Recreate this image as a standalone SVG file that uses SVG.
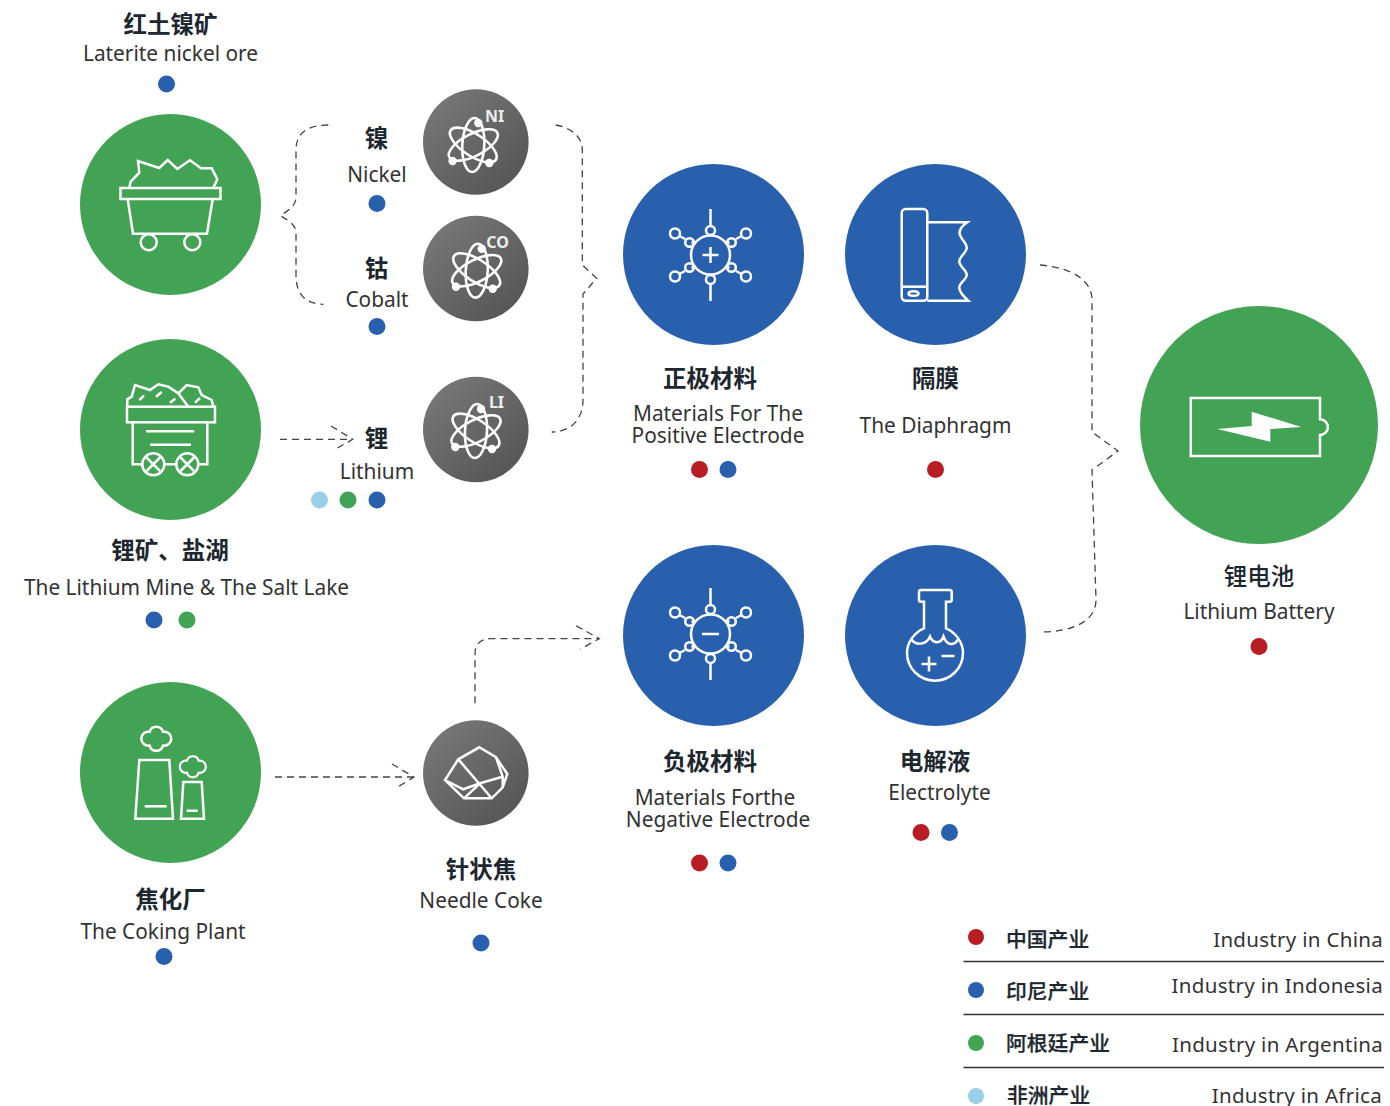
<svg xmlns="http://www.w3.org/2000/svg" xmlns:xlink="http://www.w3.org/1999/xlink" width="1390" height="1106" viewBox="0 0 1390 1106">
<style>
.g{fill:#42a354}.b{fill:#2860ae}.r{fill:#b81d24}.l{fill:#9acfea}
.i{fill:none;stroke:#fff;stroke-width:2.5;stroke-linejoin:miter}
.a{fill:none;stroke:#fff;stroke-width:2.6}
.c{fill:none;stroke:#444;stroke-width:1.3;stroke-dasharray:7 5}
.zh{font-family:"Noto Sans CJK SC",sans-serif;font-weight:700;font-size:23.5px;fill:#1d2730;text-anchor:middle}
.en{font-family:"Noto Sans","Liberation Sans",sans-serif;font-size:20.85px;fill:#333;text-anchor:middle}
.sym{font-family:"Noto Sans","Liberation Sans",sans-serif;font-weight:700;font-size:16px;fill:#eee;text-anchor:middle}
.lz{font-family:"Noto Sans CJK SC",sans-serif;font-weight:500;font-size:20.8px;fill:#1d2730;stroke:#1d2730;stroke-width:.25}
.le{font-family:"Noto Sans","Liberation Sans",sans-serif;font-size:20.5px;fill:#333;text-anchor:end;letter-spacing:.3px}
</style>
<defs>
<linearGradient id="gr" x1="0.15" y1="0.1" x2="0.85" y2="0.9"><stop offset="0" stop-color="#767676"/><stop offset="1" stop-color="#565656"/></linearGradient>
<g id="atom">
<ellipse class="a" rx="27" ry="11" transform="rotate(33)"/>
<ellipse class="a" rx="27" ry="11" transform="rotate(93)"/>
<ellipse class="a" rx="27" ry="11" transform="rotate(153)"/>
<circle cx="5" cy="-22" r="4.200" fill="#fff"/><circle cx="-20.700" cy="16" r="4.200" fill="#fff"/><circle cx="16" cy="18" r="4.200" fill="#fff"/>
</g>
<g id="mol">
<circle r="19.5" class="i"/>
<path class="i" d="M0-46V-30M0 46V30M-15-11-19-13M15-11 19-13M-15 11-19 13M15 11 19 13M-25.500-16-31-19M25.500-16 31-19M-25.500 16-31 19M25.500 16 31 19"/>
<circle cy="-24.500" r="4.500" class="i"/><circle cy="24.500" r="4.500" class="i"/>
<circle cx="-21" cy="-12.500" r="4.300" class="i"/><circle cx="21" cy="-12.500" r="4.300" class="i"/><circle cx="-21" cy="12.500" r="4.300" class="i"/><circle cx="21" cy="12.500" r="4.300" class="i"/>
<circle cx="-35.500" cy="-21.500" r="5" class="i"/><circle cx="35.500" cy="-21.500" r="5" class="i"/><circle cx="-35.500" cy="21.500" r="5" class="i"/><circle cx="35.500" cy="21.500" r="5" class="i"/>
</g>
<path id="cloud" d="M-6.740-6.890A7 7 0 0 1 6.740-6.890A7 7 0 1 1 6.740 6.890A7 7 0 0 1-6.740 6.890A7 7 0 1 1-6.740-6.890Z"/>
</defs>
<g id="connectors">
<path class="c" d="M328.300 125C306 125 296 134 296 150V197C296 205 290 209 280.500 215.700C291 222 296 226 296 233V275C296 294 305 304 323.300 304.300"/>
<path class="c" d="M555.700 125C573 128 582.300 138 582.300 150V265L596.700 278.300L583 294V400C583 420 570 432 551.700 432"/>
<path class="c" d="M280 439.300H352.700M331 426L352.700 439.300L335.300 449.300"/>
<path class="c" d="M275 777H414M392 764L414 777L396 788"/>
<path class="c" d="M475 703.300V653C475 644 481 638.700 490 638.700H599.300M576 625.700L599.300 638.700L580 649.300"/>
<path class="c" d="M1040 265C1075 268 1092 282 1092 300V432L1118 451L1092 470L1096 600C1096 620 1075 632 1040 632"/>
</g>
<g id="laterite">
<circle class="g" cx="170.500" cy="204.500" r="90.500"/>
<g class="i"><rect x="120.500" y="188" width="100" height="11"/><path d="M127.700 199L133 233.700H207L212.700 199"/><path d="M129.300 187.300L130.700 181.700L139.300 172.700L138 161L159.300 168L167.700 160L177.300 169L190 160.300L201 168.300L211.700 168.300L217.300 179.300L213.300 187.700"/><circle cx="148.700" cy="242.300" r="8"/><circle cx="192.300" cy="242.300" r="8"/></g>
<text class="zh" x="170.500" y="33">红土镍矿</text><text class="en" x="170.500" y="61">Laterite nickel ore</text>
<circle class="b" cx="166.500" cy="84" r="8.500"/>
</g>
<g id="lithium-mine">
<circle class="g" cx="170.500" cy="429.500" r="90.500"/>
<g class="i"><rect x="127" y="406.700" width="88" height="15.600"/><path d="M132.700 422.300V464.300H142M165 464.300H176M198.300 464.300H207.300V422.300"/><path d="M146 431.300H194.300M150 444.700H191"/><circle cx="153.300" cy="464.300" r="11"/><circle cx="187.300" cy="464.300" r="11"/><path d="M146.500 457.500L160 471M160 457.500L146.500 471M180.500 457.500L194 471M194 457.500L180.500 471"/><path d="M127.300 406.700V399.300L131.700 396.700L135 385L150 390L158.300 384.300L168.300 386.700L178.300 393.300L186.700 385L198.300 387.300L201.700 395L211.700 400L213.300 406.700M178.300 393.300L188.300 406.700M139.300 400L144 395.700M156 396.700L161.700 392M170 402.700L175.300 398.700M195 402.700L200 398"/></g>
<text class="zh" x="170" y="559">锂矿、盐湖</text><text class="en" x="186.500" y="595">The Lithium Mine &amp; The Salt Lake</text>
<circle class="b" cx="154" cy="620" r="8.500"/><circle class="g" cx="187" cy="620" r="8.500"/>
</g>
<g id="coking-plant">
<circle class="g" cx="170.500" cy="772.500" r="90.500"/>
<g class="i"><path d="M139.300 760H169.300L173 818.700H135.300Z"/><path d="M144.700 806.300H166.700"/><path d="M183.300 782H201.700L204 818.700H181Z"/><path d="M186.700 810.700H197.700"/><use href="#cloud" transform="translate(156.300 738.700)"/><use href="#cloud" transform="translate(192.800 766.700) scale(.87)"/></g>
<text class="zh" x="170.500" y="908">焦化厂</text><text class="en" x="163" y="939">The Coking Plant</text>
<circle class="b" cx="164" cy="956.500" r="8.500"/>
</g>
<g id="nickel">
<circle cx="475.800" cy="142" r="52.800" fill="url(#gr)"/><use href="#atom" x="473.300" y="145"/><text class="sym" x="494.500" y="121.500">NI</text>
<text class="zh" x="376.500" y="147">镍</text><text class="en" x="377" y="182">Nickel</text><circle class="b" cx="377" cy="203.500" r="8.500"/>
</g>
<g id="cobalt">
<circle cx="475.800" cy="268.500" r="52.800" fill="url(#gr)"/><use href="#atom" x="476.700" y="270.700"/><text class="sym" x="497.500" y="247.500">CO</text>
<text class="zh" x="376.500" y="277">钴</text><text class="en" x="377" y="307">Cobalt</text><circle class="b" cx="377" cy="326.500" r="8.500"/>
</g>
<g id="lithium">
<circle cx="475.800" cy="429.500" r="52.800" fill="url(#gr)"/><use href="#atom" x="476" y="431"/><text class="sym" x="496.500" y="407.500">LI</text>
<text class="zh" x="376.500" y="447">锂</text><text class="en" x="377" y="479">Lithium</text>
<circle class="l" cx="319.500" cy="500" r="8.500"/><circle class="g" cx="348" cy="500" r="8.500"/><circle class="b" cx="377" cy="500" r="8.500"/>
</g>
<g id="needle-coke">
<circle cx="475.800" cy="773" r="52.800" fill="url(#gr)"/>
<path class="i" d="M479.300 747.300L496 757.300L507.300 774L502.700 787.300L491.700 798.300H464L445 780L458.300 759.300ZM458.300 759.300L491.700 798.300M445 780L463.300 789.300L480 783.300L502.700 776.700M496 757.300L502.700 776.700V787.300M480 783.300L464 798.300"/>
<text class="zh" x="481" y="878">针状焦</text><text class="en" x="481" y="908">Needle Coke</text><circle class="b" cx="481" cy="943" r="8.500"/>
</g>
<g id="cathode">
<circle class="b" cx="713.500" cy="254.500" r="90.500"/><use href="#mol" x="710.500" y="255"/><path class="i" d="M702.500 255H718.500M710.500 247V263"/>
<text class="zh" x="710" y="386.500">正极材料</text><text class="en" x="718" y="421">Materials For The</text><text class="en" x="718" y="443">Positive Electrode</text>
<circle class="r" cx="699.500" cy="469.500" r="8.500"/><circle class="b" cx="728" cy="469.500" r="8.500"/>
</g>
<g id="diaphragm">
<circle class="b" cx="935.500" cy="254.500" r="90.500"/>
<g class="i"><rect x="901.700" y="209" width="25.600" height="91.700" rx="4"/><path d="M901.700 286.700H927.300"/><ellipse cx="913.500" cy="293.500" rx="5" ry="2.300"/><path d="M927.300 222.300H967.300C962 226 958.500 231 960 235C961.500 240 967 243 966.700 248C966.400 253 959 257 959.300 261.700C959.600 267 967 270 966.700 275C966.400 280 958.500 283 959.300 288.300C960 293 964 297 968.300 300.700H927.300"/></g>
<text class="zh" x="935.500" y="386.500">隔膜</text><text class="en" x="935.500" y="433">The Diaphragm</text>
<circle class="r" cx="935.500" cy="469.500" r="8.500"/>
</g>
<g id="anode">
<circle class="b" cx="713.500" cy="635.500" r="90.500"/><use href="#mol" x="710.500" y="634"/><path class="i" d="M702 634H719"/>
<text class="zh" x="710" y="770">负极材料</text><text class="en" x="715" y="805">Materials Forthe</text><text class="en" x="718" y="827">Negative Electrode</text>
<circle class="r" cx="699.500" cy="863" r="8.500"/><circle class="b" cx="728" cy="863" r="8.500"/>
</g>
<g id="electrolyte">
<circle class="b" cx="935.500" cy="635.500" r="90.500"/>
<g class="i"><path d="M924 628.300V601.700H921A2 2 0 0 1 919 599.700V592A2 2 0 0 1 921 590H949.700A2 2 0 0 1 951.700 592V599.700A2 2 0 0 1 949.700 601.700H946V628.300C955 632 963 642 963 652.700A28 28 0 0 1 907 652.700C907 642 915 632 924 628.300Z"/><path d="M911.500 639.500C915 645 926 646 930 636.500C933 644 941 644 943.500 636.500C947 646 954 646 958 639.500"/><path d="M921.500 664H936.500M929 656.500V671.500M941.500 656H954.500"/></g>
<text class="zh" x="935" y="770">电解液</text><text class="en" x="939.500" y="800">Electrolyte</text>
<circle class="r" cx="921" cy="832.500" r="8.500"/><circle class="b" cx="949.500" cy="832.500" r="8.500"/>
</g>
<g id="battery">
<circle class="g" cx="1259" cy="425" r="119"/>
<path class="i" d="M1320 419.300V398H1190.800V456H1320V435A7.800 7.800 0 0 0 1320 419.300Z"/>
<path fill="#fff" d="M1217.300 429L1251.700 426V411.700L1301.300 427L1270.300 429V441.700Z"/>
<text class="zh" x="1259" y="585" style="font-weight:500">锂电池</text><text class="en" x="1259" y="619">Lithium Battery</text>
<circle class="r" cx="1259" cy="646.500" r="8.500"/>
</g>
<g id="legend">
<path stroke="#333" stroke-width="1.500" d="M963.500 961.500H1384M963.500 1014.500H1384M963.500 1067.500H1384"/>
<circle class="r" cx="976" cy="937" r="8"/><text class="lz" x="1006" y="947">中国产业</text><text class="le" x="1383" y="947">Industry in China</text>
<circle class="b" cx="976" cy="990" r="8"/><text class="lz" x="1006" y="999">印尼产业</text><text class="le" x="1383" y="993">Industry in Indonesia</text>
<circle class="g" cx="976" cy="1043" r="8"/><text class="lz" x="1006" y="1051">阿根廷产业</text><text class="le" x="1383" y="1052">Industry in Argentina</text>
<circle class="l" cx="976" cy="1096" r="8"/><text class="lz" x="1007" y="1103">非洲产业</text><text class="le" x="1382" y="1103">Industry in Africa</text>
</g>
</svg>
